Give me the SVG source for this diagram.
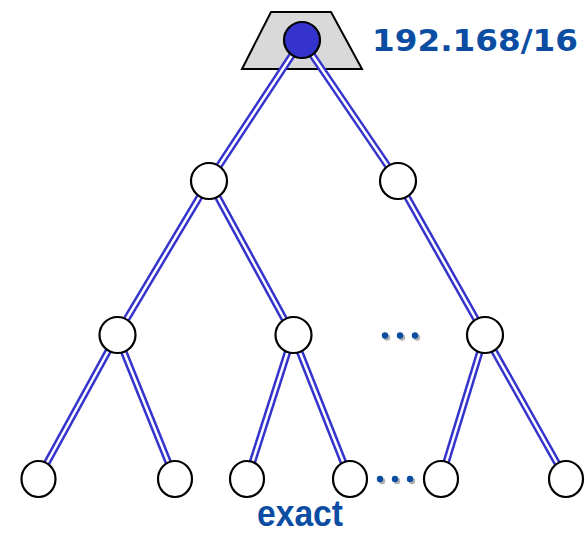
<svg xmlns="http://www.w3.org/2000/svg" width="585" height="534" viewBox="0 0 585 534">
  <style>
    .link-outer { stroke: #3434cc; stroke-width: 7.5; fill: none; }
    .link-inner { stroke: #ffffff; stroke-width: 2.5; fill: none; }
    .node { fill: #ffffff; stroke: #000000; stroke-width: 2.2; }
    .root { fill: #3434cc; stroke: #000000; stroke-width: 2.2; }
    .label { font-family: "DejaVu Sans", "Liberation Sans", sans-serif; font-weight: bold; fill: #0b4da2; }
    .caption { font-family: "Liberation Sans", Arial, sans-serif; font-weight: bold; fill: #0b4da2; }
    .dot { fill: #0b4da2; }
    .dot-shadow { fill: #b0b0b0; }
  </style>
  <defs>
    <g id="dots">
      <circle class="dot-shadow" cx="2" cy="2" r="3.2"/>
      <circle class="dot-shadow" cx="17" cy="2" r="3.2"/>
      <circle class="dot-shadow" cx="32" cy="2" r="3.2"/>
      <circle class="dot" cx="0" cy="0" r="3.2"/>
      <circle class="dot" cx="15" cy="0" r="3.2"/>
      <circle class="dot" cx="30" cy="0" r="3.2"/>
    </g>
  </defs>

  <!-- prefix box behind the root -->
  <polygon id="prefix-box" points="271,12 331,12 362,69 242,69" fill="#d9d9d9" stroke="#000000" stroke-width="2"/>

  <!-- links: thick blue stroke with a white core gives the double line -->
  <g id="connectors">
    <g class="link-outer">
      <line x1="302" y1="40" x2="209" y2="181"/>
      <line x1="302" y1="40" x2="398" y2="181"/>
      <line x1="209" y1="181" x2="117" y2="335"/>
      <line x1="209" y1="181" x2="293" y2="335"/>
      <line x1="398" y1="181" x2="485" y2="335"/>
      <line x1="117" y1="335" x2="38" y2="479"/>
      <line x1="117" y1="335" x2="175" y2="479"/>
      <line x1="293" y1="335" x2="247" y2="479"/>
      <line x1="293" y1="335" x2="350" y2="479"/>
      <line x1="485" y1="335" x2="441" y2="479"/>
      <line x1="485" y1="335" x2="566" y2="479"/>
    </g>
    <g class="link-inner">
      <line x1="302" y1="40" x2="209" y2="181"/>
      <line x1="302" y1="40" x2="398" y2="181"/>
      <line x1="209" y1="181" x2="117" y2="335"/>
      <line x1="209" y1="181" x2="293" y2="335"/>
      <line x1="398" y1="181" x2="485" y2="335"/>
      <line x1="117" y1="335" x2="38" y2="479"/>
      <line x1="117" y1="335" x2="175" y2="479"/>
      <line x1="293" y1="335" x2="247" y2="479"/>
      <line x1="293" y1="335" x2="350" y2="479"/>
      <line x1="485" y1="335" x2="441" y2="479"/>
      <line x1="485" y1="335" x2="566" y2="479"/>
    </g>
  </g>

  <!-- nodes -->
  <g id="root"><circle class="root" cx="302" cy="40" r="18"/></g>
  <g id="n1a"><circle class="node" cx="209" cy="181" r="18"/></g>
  <g id="n1b"><circle class="node" cx="398" cy="181" r="18"/></g>
  <g id="n2a"><circle class="node" cx="117.5" cy="335" r="18"/></g>
  <g id="n2b"><circle class="node" cx="293.5" cy="335" r="18"/></g>
  <g id="n2c"><circle class="node" cx="485" cy="335" r="18"/></g>
  <g id="n3a"><ellipse class="node" cx="38.5" cy="479" rx="17" ry="18"/></g>
  <g id="n3b"><ellipse class="node" cx="175" cy="479" rx="17" ry="18"/></g>
  <g id="n3c"><ellipse class="node" cx="247" cy="479" rx="17" ry="18"/></g>
  <g id="n3d"><ellipse class="node" cx="350" cy="479" rx="17" ry="18"/></g>
  <g id="n3e"><ellipse class="node" cx="441" cy="479" rx="17" ry="18"/></g>
  <g id="n3f"><ellipse class="node" cx="566" cy="479" rx="17" ry="18"/></g>

  <!-- ellipses between subtrees -->
  <use href="#dots" x="385" y="335.5"/>
  <use href="#dots" x="380" y="479"/>

  <!-- labels -->
  <text class="label" x="372" y="51" font-size="31" textLength="206" lengthAdjust="spacingAndGlyphs">192.168/16</text>
  <text class="caption" x="257" y="526" font-size="37" textLength="86" lengthAdjust="spacingAndGlyphs">exact</text>
</svg>
